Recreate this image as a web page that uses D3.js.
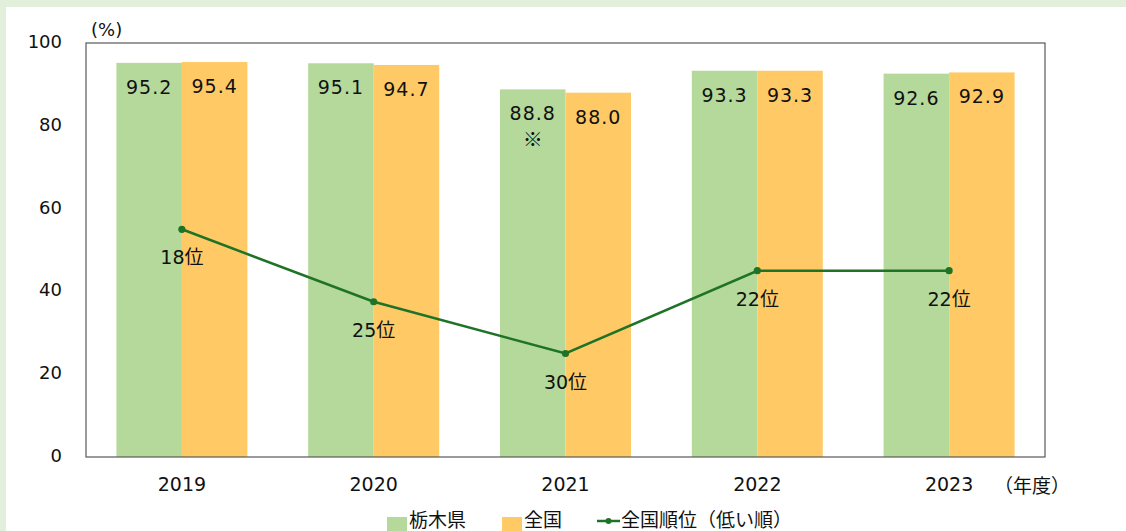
<!DOCTYPE html>
<html>
<head>
<meta charset="utf-8">
<script src="https://cdn.jsdelivr.net/npm/d3@7"></script>
<style>
  html, body { margin: 0; padding: 0; background: #fff; }
  svg { display: block; }
</style>
</head>
<body>
<svg id="chart" width="1126" height="531"></svg>
<script>
const years = ["2019", "2020", "2021", "2022", "2023"];
const tochigi = [95.2, 95.1, 88.8, 93.3, 92.6];
const national = [95.4, 94.7, 88.0, 93.3, 92.9];
const ranks = [18, 25, 30, 22, 22];
const seriesNames = ["栃木県", "全国", "全国順位（低い順）"];
const yTicks = [0, 20, 40, 60, 80, 100];
const notes = ["", "", "※", "", ""];

const W = 1126, H = 531;
const m = { left: 86, right: 1045, top: 43, bottom: 457 };
const latin = "'DejaVu Sans', 'Noto Sans CJK JP', sans-serif";
const cjk = "'Noto Sans CJK JP', 'DejaVu Sans', sans-serif";
const cGreen = "#b4d99b", cOrange = "#ffca66", cLine = "#1f7326", cText = "#111";

const svg = d3.select("#chart");

// frame background
svg.append("rect").attr("width", W).attr("height", H).attr("fill", "#fff");
svg.append("rect").attr("x", 0).attr("y", 0).attr("width", W).attr("height", 7).attr("fill", "#e2efda");
svg.append("rect").attr("x", 0).attr("y", 0).attr("width", 6).attr("height", H).attr("fill", "#e2efda");

const pi = 0.317;
const x = d3.scaleBand().domain(years).range([m.left, m.right]).paddingInner(pi).paddingOuter(pi / 2);
const xs = d3.scaleBand().domain([0, 1]).range([0, x.bandwidth()]);
const y = d3.scaleLinear().domain([0, 100]).range([m.bottom, m.top]);
const yr = d3.scaleLinear().domain([0, 40]).range([m.top, m.bottom]);

// bars
const g = svg.append("g");
years.forEach((yr_, i) => {
  [[tochigi[i], cGreen], [national[i], cOrange]].forEach(([v, c], j) => {
    const bx = x(yr_) + xs(j);
    g.append("rect")
      .attr("x", bx).attr("y", y(v))
      .attr("width", xs.bandwidth()).attr("height", y(0) - y(v))
      .attr("fill", c);
    g.append("text")
      .attr("x", bx + xs.bandwidth() / 2).attr("y", y(v) + 31)
      .attr("text-anchor", "middle")
      .attr("font-family", latin).attr("font-size", 19).attr("letter-spacing", 1)
      .attr("fill", cText).text(v.toFixed(1));
    if (j === 0 && notes[i]) {
      g.append("text")
        .attr("x", bx + xs.bandwidth() / 2).attr("y", y(v) + 58)
        .attr("text-anchor", "middle")
        .attr("font-family", cjk).attr("font-size", 20)
        .attr("fill", cText).text(notes[i]);
    }
  });
});

// plot box
svg.append("rect")
  .attr("x", m.left).attr("y", m.top)
  .attr("width", m.right - m.left).attr("height", m.bottom - m.top)
  .attr("fill", "none").attr("stroke", "#595959").attr("stroke-width", 1.2);

// y axis
const yAxis = svg.append("g").attr("transform", `translate(${m.left},0)`)
  .call(d3.axisLeft(y).tickValues(yTicks).tickSize(0).tickPadding(24));
yAxis.select(".domain").remove();
yAxis.selectAll("text").attr("font-family", latin).attr("font-size", 18).attr("fill", cText).attr("dy", "0.25em");

// x axis
const xAxis = svg.append("g").attr("transform", `translate(0,${m.bottom})`)
  .call(d3.axisBottom(x).tickSize(0).tickPadding(21));
xAxis.select(".domain").remove();
xAxis.selectAll("text").attr("font-family", latin).attr("font-size", 19).attr("fill", cText);

// unit labels
svg.append("text").attr("x", 91).attr("y", 36)
  .attr("font-family", latin).attr("font-size", 18).attr("fill", cText).text("(%)");
svg.append("text").attr("x", 994).attr("y", 493)
  .attr("font-family", cjk).attr("font-size", 19).attr("fill", cText).text("（年度）");

// rank line
const cx = d => x(d) + x.bandwidth() / 2;
const line = d3.line().x((d, i) => cx(years[i])).y(d => yr(d));
svg.append("path").datum(ranks).attr("d", line)
  .attr("fill", "none").attr("stroke", cLine).attr("stroke-width", 2.6);
svg.selectAll(".pt").data(ranks).enter().append("circle")
  .attr("cx", (d, i) => cx(years[i])).attr("cy", d => yr(d)).attr("r", 3.6).attr("fill", cLine);
svg.selectAll(".rl").data(ranks).enter().append("text")
  .attr("x", (d, i) => cx(years[i])).attr("y", d => yr(d) + 35)
  .attr("text-anchor", "middle")
  .attr("font-family", latin).attr("font-size", 19).attr("fill", cText)
  .text(d => d + "位");

// legend
const lg = svg.append("g");
lg.append("rect").attr("x", 387).attr("y", 517).attr("width", 20).attr("height", 14).attr("fill", cGreen);
lg.append("text").attr("x", 409).attr("y", 527).attr("font-family", cjk).attr("font-size", 19).attr("fill", cText).text(seriesNames[0]);
lg.append("rect").attr("x", 502).attr("y", 517).attr("width", 20).attr("height", 14).attr("fill", cOrange);
lg.append("text").attr("x", 524).attr("y", 527).attr("font-family", cjk).attr("font-size", 19).attr("fill", cText).text(seriesNames[1]);
lg.append("line").attr("x1", 597).attr("x2", 620).attr("y1", 521).attr("y2", 521).attr("stroke", cLine).attr("stroke-width", 2.5);
lg.append("circle").attr("cx", 608.5).attr("cy", 521).attr("r", 3).attr("fill", cLine);
lg.append("text").attr("x", 621).attr("y", 527).attr("font-family", cjk).attr("font-size", 19).attr("fill", cText).text(seriesNames[2]);
</script>
</body>
</html>
